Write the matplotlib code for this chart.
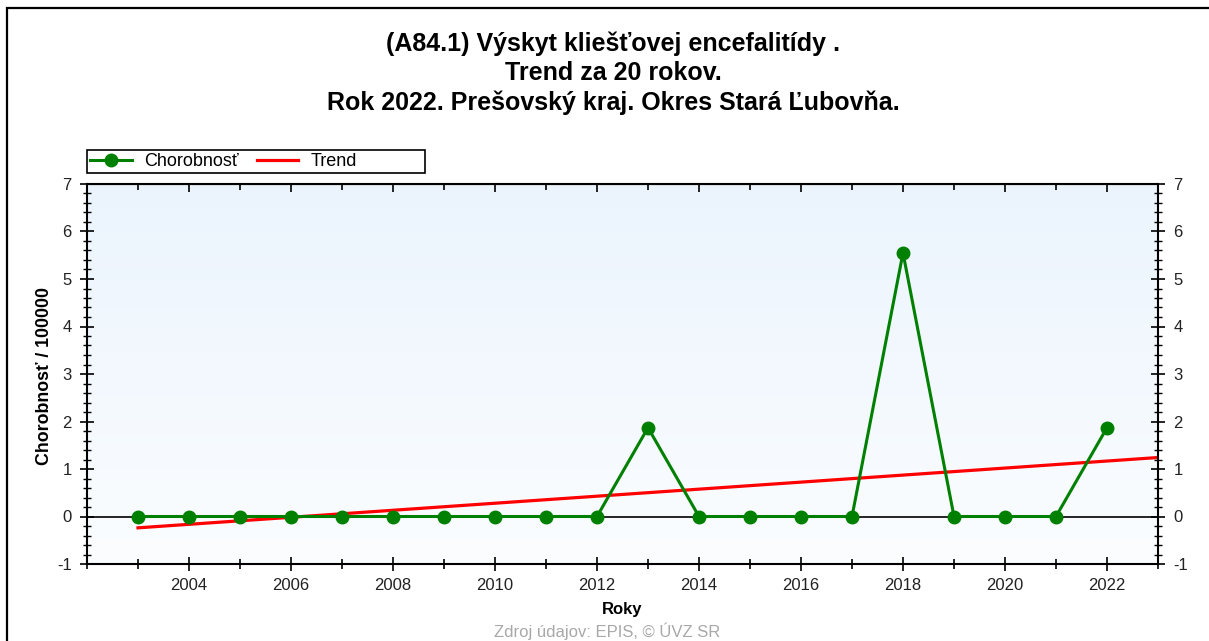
import numpy as np
import matplotlib
matplotlib.use("Agg")
import matplotlib.pyplot as plt
from matplotlib.patches import Rectangle
from matplotlib.ticker import MultipleLocator, FixedLocator
from matplotlib.colors import LinearSegmentedColormap

plt.rcParams['font.family'] = ['Liberation Sans', 'DejaVu Sans']
plt.rcParams['axes.unicode_minus'] = False

years = [2003, 2004, 2005, 2006, 2007, 2008, 2009, 2010, 2011, 2012,
         2013, 2014, 2015, 2016, 2017, 2018, 2019, 2020, 2021, 2022]
rates = [0, 0, 0, 0, 0, 0, 0, 0, 0, 0,
         1.87, 0, 0, 0, 0, 5.55, 0, 0, 0, 1.87]
year_labels = [2004, 2006, 2008, 2010, 2012, 2014, 2016, 2018, 2020, 2022]

title_lines = ["(A84.1) Výskyt kliešťovej encefalitídy .",
               "Trend za 20 rokov.",
               "Rok 2022. Prešovský kraj. Okres Stará Ľubovňa."]

W, H = 1209, 641
fig = plt.figure(figsize=(W / 100, H / 100), dpi=100)

def px(x, y):
    return x / W, 1 - y / H

# outer frame (runs off the image on right and bottom)
fig.patches.append(Rectangle((7 / W, -0.1), 1.2, 1 - 8 / H + 0.1,
                             transform=fig.transFigure, fill=False,
                             edgecolor='black', linewidth=1.6))

ax = fig.add_axes([87 / W, 1 - 564 / H, (1158 - 87) / W, (564 - 184) / H])

# background gradient
grad = np.linspace(0, 1, 256).reshape(-1, 1)
cmap = LinearSegmentedColormap.from_list('bg', ['#FBFDFF', '#EBF4FD'])
ax.imshow(grad, aspect='auto', cmap=cmap, origin='lower',
          extent=[2002, 2023, -1, 7], zorder=0)

ax.axhline(0, color='black', linewidth=1.2, zorder=1)

# linear trend
coef = np.polyfit(years, rates, 1)
tx = np.array([years[0], 2023])
ax.plot(tx, np.polyval(coef, tx), color='#FF0000', linewidth=2.3,
        label='Trend', zorder=2)
ax.plot(years, rates, color='#008000', linewidth=2.2, marker='o',
        markersize=9, label='Chorobnosť', zorder=3)

ax.set_xlim(2002, 2023)
ax.set_ylim(-1, 7)
ax.xaxis.set_major_locator(FixedLocator(year_labels))
ax.xaxis.set_minor_locator(MultipleLocator(1))
ax.yaxis.set_major_locator(MultipleLocator(1))
ax.yaxis.set_minor_locator(MultipleLocator(0.2))
ax.tick_params(axis='both', which='both', direction='inout', top=False,
               right=True, labelright=True, labelsize=12, colors='black',
               labelcolor='#222222')
ax.tick_params(axis='x', which='major', length=10, width=1.2, pad=5)
ax.tick_params(axis='x', which='minor', length=7, width=1.2)
ax.tick_params(axis='y', which='major', length=10, width=1.2, pad=6)
ax.tick_params(axis='y', which='minor', length=6, width=1)
for s in ax.spines.values():
    s.set_linewidth(1.5)

# top ticks point inward only
top = ax.secondary_xaxis('top')
top.xaxis.set_major_locator(FixedLocator(year_labels))
top.xaxis.set_minor_locator(MultipleLocator(1))
top.tick_params(which='both', direction='in', labeltop=False, width=1.2)
top.tick_params(which='major', length=6)
top.tick_params(which='minor', length=4)

ax.set_xlabel('Roky', fontsize=12, fontweight='bold')
ax.xaxis.set_label_coords(0.5, -(602 - 564) / (564 - 184))
ax.set_ylabel('Chorobnosť / 100000', fontsize=12.8, fontweight='bold')
ax.yaxis.set_label_coords(-(87 - 53) / (1158 - 87), 0.496)

for line, y in zip(title_lines, [42, 72, 101]):
    fig.text(*px(613, y + 1.5), line, ha='center', va='center', fontsize=18,
             fontweight='bold')

# legend with a fixed frame like the reference
fig.patches.append(Rectangle(px(87, 173), 338 / W, 23 / H,
                             transform=fig.transFigure, fill=False,
                             edgecolor='black', linewidth=1.2))
h, l = ax.get_legend_handles_labels()
leg = fig.legend(h[::-1], l[::-1], loc='center left', ncol=2,
                 bbox_to_anchor=px(90, 161.5), fontsize=13, frameon=False,
                 handlelength=2.3, columnspacing=1.0, handletextpad=0.7,
                 borderaxespad=0, borderpad=0)

fig.text(*px(607, 640), 'Zdroj údajov: EPIS, © ÚVZ SR', ha='center',
         va='bottom', fontsize=12, color='#A8A8A8')

fig.savefig('out.png', dpi=100)
